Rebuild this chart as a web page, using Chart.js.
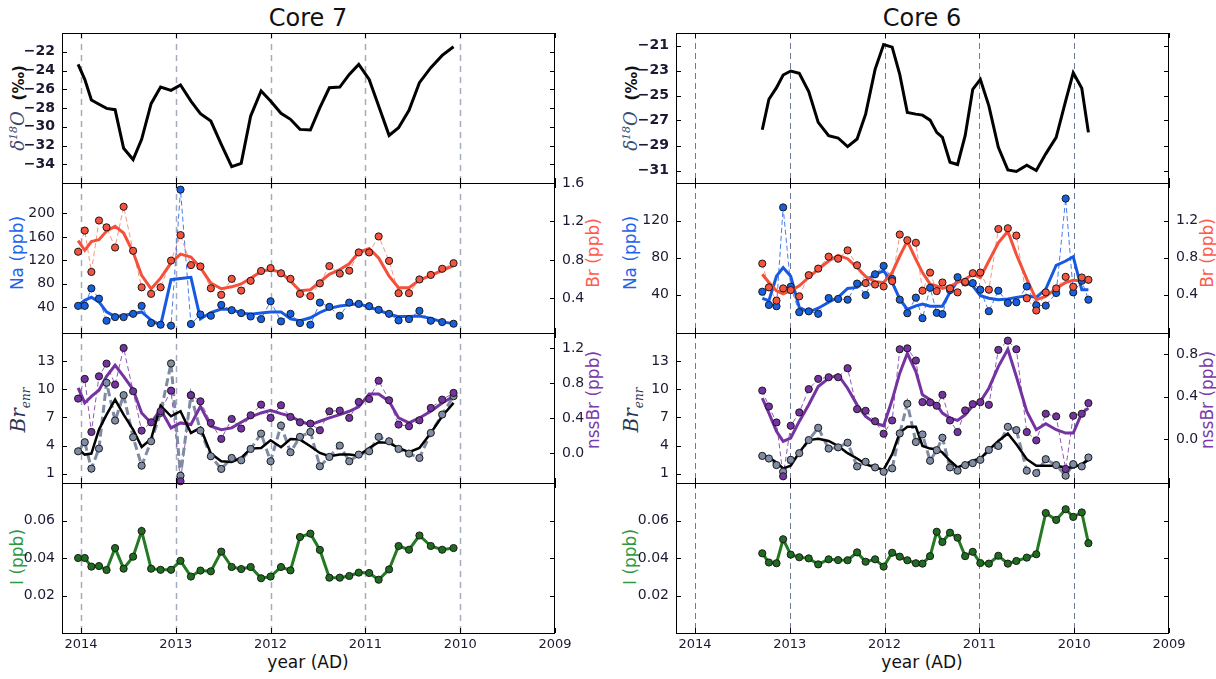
<!DOCTYPE html>
<html>
<head>
<meta charset="utf-8">
<title>Core 7 / Core 6</title>
<script src="https://cdn.jsdelivr.net/npm/chart.js"></script>
<style>
  body { margin: 0; background: #fff; width: 1216px; height: 679px; overflow: hidden; position: relative;
         font-family: "DejaVu Sans", sans-serif; color: #111; }
  canvas { position: absolute; }
  .lbl { position: absolute; white-space: nowrap; transform: translate(-50%, -50%); }
  .rot { transform: translate(-50%, -50%) rotate(-90deg); font-size: 17px; }
  .title { font-size: 24px; }
  .xlab { font-size: 17px; }
  .math { font-family: "DejaVu Serif", serif; font-style: italic; }
</style>
</head>
<body>
  <div class="lbl title" style="left:308px; top:18px;">Core 7</div>
  <div class="lbl title" style="left:922px; top:18px;">Core 6</div>
  <div class="lbl xlab" style="left:308px; top:662px;">year (AD)</div>
  <div class="lbl xlab" style="left:922px; top:662px;">year (AD)</div>

  <div class="lbl rot" style="left:17px; top:108px;"><span class="math" style="color:#3a4870; font-size:18px;">δ<sup style="font-size:11px;">18</sup>O</span>&nbsp;&nbsp;<b style="font-size:15px;">(‰)</b></div>
  <div class="lbl rot" style="left:17px; top:253px; color:#1d63f0;">Na (ppb)</div>
  <div class="lbl rot" style="left:19px; top:410px; color:#2c3553;"><span class="math" style="font-size:20px;">Br<sub style="font-size:12px;">enr</sub></span></div>
  <div class="lbl rot" style="left:17px; top:557px; color:#2e9a40;">I (ppb)</div>
  <div class="lbl rot" style="left:593px; top:253px; color:#ff5a4a;">Br (ppb)</div>
  <div class="lbl rot" style="left:593px; top:400px; color:#7a3aa8;">nssBr (ppb)</div>

  <div class="lbl rot" style="left:630px; top:108px;"><span class="math" style="color:#3a4870; font-size:18px;">δ<sup style="font-size:11px;">18</sup>O</span>&nbsp;&nbsp;<b style="font-size:15px;">(‰)</b></div>
  <div class="lbl rot" style="left:630px; top:253px; color:#1d63f0;">Na (ppb)</div>
  <div class="lbl rot" style="left:632px; top:410px; color:#2c3553;"><span class="math" style="font-size:20px;">Br<sub style="font-size:12px;">enr</sub></span></div>
  <div class="lbl rot" style="left:630px; top:557px; color:#2e9a40;">I (ppb)</div>
  <div class="lbl rot" style="left:1207px; top:253px; color:#ff5a4a;">Br (ppb)</div>
  <div class="lbl rot" style="left:1207px; top:400px; color:#7a3aa8;">nssBr (ppb)</div>

<script>
// ---------- data ----------
const xYears = [2014, 2013, 2012, 2011, 2010, 2009];

// Core 7 samples
const c7_years = [2014.03, 2013.96, 2013.89, 2013.81, 2013.73, 2013.64, 2013.55, 2013.45, 2013.36, 2013.26,
  2013.16, 2013.05, 2012.95, 2012.84, 2012.74, 2012.63, 2012.52, 2012.41, 2012.31, 2012.21,
  2012.10, 2012.00, 2011.89, 2011.79, 2011.69, 2011.58, 2011.48, 2011.38, 2011.27, 2011.17,
  2011.07, 2010.96, 2010.86, 2010.75, 2010.65, 2010.54, 2010.43, 2010.31, 2010.19, 2010.07];
const c7_d18o = [-23.35, -24.95, -27.15, -27.6, -28.04, -28.18, -32.3, -33.5, -31.34, -27.54,
  -25.77, -26.12, -25.55, -27.26, -28.6, -29.39, -31.88, -34.26, -33.9, -28.86,
  -26.19, -27.26, -28.57, -29.21, -30.28, -30.35, -27.97, -25.84, -25.77, -24.42,
  -23.35, -24.95, -27.79, -30.92, -30.1, -28.25, -25.3, -23.7, -22.39, -21.47];
const c7_na = [42.3, 42.3, 72.1, 54.6, 16.9, 23.1, 23.1, 28.7, 42.3, 13.0,
  10.1, 8.5, 240.6, 11.3, 27.6, 25.4, 43.9, 34.9, 29.9, 24.2,
  19.7, 50.1, 15.8, 28.7, 13.0, 10.1, 47.9, 40.6, 25.4, 47.9,
  45.6, 41.7, 35.5, 28.7, 17.5, 19.7, 33.8, 16.9, 14.6, 11.8];
const c7_na_smooth = [43, 52, 57, 49, 32, 24, 26, 29, 32, 18,
  9, 87, 89, 91, 20, 31, 37, 36, 30, 28,
  30, 32, 32, 20, 17, 22, 31, 38, 42, 44,
  46, 40, 35, 28, 24, 24, 25, 21, 15, 12];
const c7_br = [0.885, 1.105, 0.675, 1.21, 1.139, 0.929, 1.353, 0.895, 0.515, 0.447,
  0.515, 0.793, 1.058, 0.746, 0.732, 0.505, 0.437, 0.603, 0.481, 0.583,
  0.685, 0.715, 0.661, 0.603, 0.447, 0.424, 0.556, 0.736, 0.658, 0.688,
  0.878, 0.878, 1.044, 0.79, 0.454, 0.454, 0.597, 0.644, 0.708, 0.766];
const c7_br_smooth = [1.0, 0.90, 0.99, 1.01, 1.10, 1.15, 1.08, 0.88, 0.64, 0.50,
  0.61, 0.77, 0.86, 0.83, 0.72, 0.56, 0.50, 0.52, 0.55, 0.61,
  0.68, 0.70, 0.67, 0.58, 0.48, 0.49, 0.57, 0.65, 0.70, 0.76,
  0.88, 0.92, 0.82, 0.63, 0.51, 0.51, 0.59, 0.64, 0.69, 0.74];
const c7_enr = [3.38, 4.35, 1.53, 3.67, 10.69, 6.66, 9.37, 4.88, 1.85, 4.45,
  7.48, 12.75, 0.78, 9.37, 5.59, 2.85, 1.5, 2.67, 2.42, 3.63,
  5.27, 2.32, 6.13, 3.28, 4.92, 5.45, 1.78, 2.78, 3.99, 2.32,
  3.03, 3.38, 4.92, 4.45, 3.63, 3.14, 2.67, 5.34, 7.3, 9.26];
const c7_enr_smooth = [3.63, 3.03, 3.14, 5.7, 7.3, 8.9, 7.3, 5.7, 3.85, 4.7,
  8.26, 7.12, 7.66, 5.34, 5.88, 3.14, 2.32, 2.25, 2.67, 3.67,
  3.74, 4.56, 3.81, 4.70, 4.63, 3.92, 3.21, 2.85, 3.03, 3.03,
  2.92, 3.74, 4.35, 4.28, 3.74, 3.28, 3.74, 5.34, 7.12, 8.55];
const c7_nssbr = [0.625, 0.85, 0.244, 0.88, 1.025, 0.785, 1.204, 0.709, 0.259, 0.354,
  0.48, 0.716, -0.32, 0.663, 0.594, 0.347, 0.164, 0.392, 0.282, 0.434,
  0.556, 0.404, 0.549, 0.415, 0.354, 0.339, 0.263, 0.48, 0.488, 0.404,
  0.587, 0.621, 0.83, 0.606, 0.328, 0.309, 0.377, 0.518, 0.613, 0.69];
const c7_nssbr_smooth = [0.747, 0.575, 0.651, 0.72, 0.88, 1.006, 0.88, 0.728, 0.461, 0.347,
  0.499, 0.29, 0.347, 0.328, 0.537, 0.309, 0.27, 0.29, 0.354, 0.415,
  0.461, 0.491, 0.453, 0.423, 0.366, 0.328, 0.366, 0.404, 0.442, 0.48,
  0.53, 0.678, 0.678, 0.594, 0.404, 0.347, 0.404, 0.48, 0.575, 0.651];
const c7_iodine = [0.040, 0.040, 0.0354, 0.0357, 0.0336, 0.0453, 0.0343, 0.0407, 0.0544, 0.0343,
  0.0337, 0.0337, 0.0385, 0.0301, 0.0333, 0.0329, 0.0434, 0.0352, 0.0341, 0.0352,
  0.0292, 0.0301, 0.0352, 0.0334, 0.0512, 0.0530, 0.0443, 0.0295, 0.0295, 0.0304,
  0.0322, 0.0320, 0.0284, 0.0339, 0.0464, 0.0444, 0.0520, 0.0464, 0.0444, 0.0453];

// Core 6 samples
const c6_years = [2013.29, 2013.22, 2013.14, 2013.07, 2012.99, 2012.90, 2012.80, 2012.70, 2012.59, 2012.49,
  2012.39, 2012.29, 2012.20, 2012.10, 2012.01, 2011.92, 2011.84, 2011.76, 2011.67, 2011.60,
  2011.52, 2011.45, 2011.39, 2011.31, 2011.23, 2011.15, 2011.07, 2010.99, 2010.90, 2010.80,
  2010.70, 2010.61, 2010.50, 2010.40, 2010.30, 2010.19, 2010.09, 2010.01, 2009.92, 2009.85];
const c6_d18o = [-27.74, -25.30, -24.37, -23.36, -23.04, -23.23, -24.69, -27.15, -28.21, -28.40,
  -29.09, -28.48, -26.49, -22.91, -20.92, -21.13, -23.31, -26.36, -26.49, -26.57,
  -26.97, -27.95, -28.35, -30.34, -30.52, -28.21, -24.5, -23.71, -25.83, -29.14,
  -30.95, -31.08, -30.58, -31.0, -29.67, -28.35, -25.43, -23.18, -24.42, -27.95];
const c6_na = [43.2, 28.9, 27.5, 134.3, 48.6, 21.1, 22, 19.3, 36.4, 35.4,
  34.6, 52, 39.6, 62.1, 71.1, 57, 34.6, 20.0, 36.8, 14.6,
  47.5, 20.4, 19.0, 45, 58.9, 53.2, 52.5, 45.4, 22.1, 44.3,
  31.1, 31.8, 48.9, 28.6, 28.2, 41.8, 143.9, 42.5, 55, 34.6];
const c6_na_smooth = [36.1, 33.6, 60, 69.3, 60, 26.4, 21.1, 25.4, 31.8, 37.1,
  46.8, 47.9, 55.0, 62.1, 65.7, 53.2, 35.4, 24, 28, 30.0,
  27.5, 27.5, 27.5, 42.5, 55.0, 53.2, 49.6, 38.9, 36.1, 34.6,
  35.4, 37.1, 38.9, 37.1, 46.1, 71.8, 76.4, 81.1, 45.4, 45.4];
const c6_br = [0.736, 0.479, 0.336, 0.468, 0.45, 0.382, 0.611, 0.682, 0.811, 0.789,
  0.879, 0.718, 0.525, 0.51, 0.489, 0.546, 1.05, 0.989, 0.961, 0.443,
  0.639, 0.439, 0.532, 0.468, 0.425, 0.539, 0.632, 0.639, 0.454, 1.11,
  1.118, 1.039, 0.361, 0.229, 0.425, 0.468, 0.593, 0.486, 0.586, 0.561];
const c6_br_smooth = [0.621, 0.532, 0.443, 0.41, 0.443, 0.496, 0.586, 0.675, 0.764, 0.825,
  0.789, 0.693, 0.596, 0.539, 0.532, 0.639, 0.818, 0.979, 0.782, 0.639,
  0.514, 0.496, 0.468, 0.489, 0.532, 0.568, 0.621, 0.586, 0.764, 0.961,
  1.086, 0.836, 0.568, 0.346, 0.382, 0.468, 0.532, 0.557, 0.55, 0.561];
const c6_enr = [2.89, 2.61, 1.91, 1.2, 2.47, 3.18, 4.58, 5.89, 3.67, 3.8,
  4.3, 1.77, 2.26, 1.66, 1.2, 1.56, 5.29, 8.46, 4.37, 5.18,
  2.37, 3.5, 4.83, 1.66, 1.31, 1.91, 2.12, 2.47, 3.53, 3.95,
  5.99, 5.64, 1.31, 1.06, 2.54, 1.91, 0.78, 2.01, 1.77, 2.72];
const c6_enr_smooth = [2.89, 2.72, 2.19, 1.56, 1.84, 3.25, 4.58, 4.73, 4.48, 3.95,
  3.18, 2.61, 2.01, 1.66, 1.42, 3.07, 5.36, 5.99, 5.99, 3.95,
  3.67, 3.6, 3.25, 2.37, 1.66, 2.01, 2.37, 2.61, 3.53, 4.48,
  5.29, 4.13, 2.54, 1.84, 1.84, 1.84, 1.66, 1.66, 2.01, 2.47];
const c6_nssbr = [0.459, 0.309, 0.159, -0.347, 0.128, 0.253, 0.472, 0.569, 0.584, 0.584,
  0.669, 0.284, 0.269, 0.17, 0.053, 0.178, 0.847, 0.856, 0.741, 0.35,
  0.347, 0.316, 0.419, 0.178, 0.069, 0.272, 0.331, 0.35, 0.325, 0.841,
  0.928, 0.847, 0.069, -0.009, 0.241, 0.216, -0.278, 0.222, 0.241, 0.341];
const c6_nssbr_smooth = [0.388, 0.247, 0.075, -0.019, 0.013, 0.169, 0.325, 0.497, 0.575, 0.606,
  0.481, 0.325, 0.216, 0.153, 0.128, 0.372, 0.622, 0.809, 0.638, 0.419,
  0.372, 0.325, 0.247, 0.2, 0.178, 0.231, 0.316, 0.356, 0.481, 0.684,
  0.847, 0.591, 0.263, 0.091, 0.147, 0.091, 0.059, 0.059, 0.247, 0.294];
const c6_iodine = [0.0425, 0.0376, 0.0372, 0.0500, 0.0418, 0.0404, 0.0398, 0.0366, 0.0393, 0.0389,
  0.0388, 0.0430, 0.0380, 0.0393, 0.0354, 0.0428, 0.0407, 0.0388, 0.0372, 0.0370,
  0.0410, 0.0540, 0.0485, 0.0535, 0.0508, 0.0410, 0.0433, 0.0373, 0.0370, 0.0412,
  0.0370, 0.0384, 0.0402, 0.0420, 0.0640, 0.0603, 0.0660, 0.0619, 0.0643, 0.0479];

// tick labels
const d18oTicks7 = [-34, -32, -30, -28, -26, -24, -22];
const d18oTicks6 = [-31, -29, -27, -25, -23, -21];
const naTicks7 = [40, 80, 120, 160, 200];
const brTicks7 = [0.4, 0.8, 1.2, 1.6];
const naTicks6 = [40, 80, 120];
const brTicks6 = [0.4, 0.8, 1.2];
const enrTicks = [1, 4, 7, 10, 13];
const nssTicks7 = [0.0, 0.4, 0.8, 1.2];
const nssTicks6 = [0.0, 0.4, 0.8];
const iTicks = [0.02, 0.04, 0.06];

// ---------- drawing ----------
Chart.defaults.font.family = '"DejaVu Sans", sans-serif';
Chart.defaults.font.size = 14;
Chart.defaults.color = '#1a1a33';

const TOPS = [33, 183, 333, 483];
const PANEL_H = 150, LEFT_AX = 55, RIGHT_AX = 45, PAD = 20;
const COLS = {
  c7: { left: 62, width: 493, dash: { color: '#a3abbd', width: 1.5, pattern: [6, 5] } },
  c6: { left: 676, width: 493, dash: { color: '#6f7a98', width: 1, pattern: [6, 4] } }
};

const pts = (xs, ys) => xs.map((x, i) => ({ x: x, y: ys[i] }));
const minus = v => (v < 0 ? '\u2212' : '') + Math.abs(v);

function lineSet(xs, ys, color, width, axis, order, dash) {
  return { data: pts(xs, ys), showLine: true, borderColor: color, borderWidth: width,
    borderDash: dash || [], pointRadius: 0, yAxisID: axis, order: order, tension: 0 };
}
function dotSet(xs, ys, fill, axis, order) {
  return { data: pts(xs, ys), showLine: false, backgroundColor: fill, pointBackgroundColor: fill,
    pointBorderColor: '#1a1a1a', pointBorderWidth: 1, pointRadius: 3.6, yAxisID: axis, order: order, clip: 5 };
}

const framePlugin = {
  id: 'frame',
  beforeDatasetsDraw(chart, args, opts) {
    const { ctx, chartArea: a } = chart;
    const sx = chart.scales.x;
    ctx.save();
    ctx.strokeStyle = opts.color; ctx.lineWidth = opts.width; ctx.setLineDash(opts.pattern);
    xYears.slice(0, 5).forEach(v => {
      const x = Math.round(sx.getPixelForValue(v)) + 0.5;
      ctx.beginPath(); ctx.moveTo(x, a.top); ctx.lineTo(x, a.bottom); ctx.stroke();
    });
    ctx.restore();
  },
  afterDraw(chart) {
    const { ctx, chartArea: a } = chart;
    const sx = chart.scales.x, yl = chart.scales.y, yr = chart.scales.y2 || yl;
    ctx.save();
    ctx.strokeStyle = '#000'; ctx.lineWidth = 1; ctx.setLineDash([]);
    ctx.strokeRect(a.left + 0.5, a.top + 0.5, a.right - a.left - 1, a.bottom - a.top);
    ctx.beginPath();
    yl.ticks.forEach(t => {
      const y = Math.round(yl.getPixelForValue(t.value)) + 0.5;
      ctx.moveTo(a.left, y); ctx.lineTo(a.left + 5, y);
    });
    yr.ticks.forEach(t => {
      const y = Math.round(yr.getPixelForValue(t.value)) + 0.5;
      ctx.moveTo(a.right - 5, y); ctx.lineTo(a.right, y);
    });
    xYears.forEach(v => {
      const x = Math.round(sx.getPixelForValue(v)) + 0.5;
      ctx.moveTo(x, a.bottom); ctx.lineTo(x, a.bottom - 5);
      ctx.moveTo(x, a.top); ctx.lineTo(x, a.top + 5);
    });
    ctx.stroke();
    ctx.restore();
  }
};

function yAxis(position, min, max, ticks, fmt, bold) {
  return {
    type: 'linear', position: position, min: min, max: max,
    grid: { display: false, drawTicks: false }, border: { display: false },
    afterBuildTicks: s => { s.ticks = ticks.map(v => ({ value: v })); },
    afterFit: s => { s.width = position === 'left' ? LEFT_AX : RIGHT_AX; },
    ticks: { padding: 7, callback: fmt, font: { weight: bold ? 'bold' : 'normal' } }
  };
}

function panel(colKey, row, datasets, y, y2) {
  const col = COLS[colKey];
  const last = row === 3;
  const cv = document.createElement('canvas');
  cv.width = col.width + LEFT_AX + RIGHT_AX;
  cv.height = PAD + PANEL_H + (last ? 30 : PAD);
  cv.style.left = (col.left - LEFT_AX) + 'px';
  cv.style.top = (TOPS[row] - PAD) + 'px';
  document.body.appendChild(cv);

  const scales = {
    x: {
      type: 'linear', reverse: true, min: 2009, max: 2014.2, display: last,
      grid: { display: false, drawTicks: false }, border: { display: false },
      afterBuildTicks: s => { s.ticks = xYears.map(v => ({ value: v })); },
      afterFit: s => { s.height = last ? 30 : 0; },
      ticks: { padding: 4, maxRotation: 0, autoSkip: false, callback: v => String(v), font: { size: 13 } }
    },
    y: y
  };
  if (y2) scales.y2 = y2;

  new Chart(cv, {
    type: 'scatter',
    data: { datasets: datasets },
    options: {
      responsive: false, animation: false, events: [],
      layout: { padding: { top: PAD, bottom: last ? 0 : PAD, left: 0, right: y2 ? 0 : RIGHT_AX } },
      plugins: { legend: { display: false }, tooltip: { enabled: false }, frame: col.dash },
      scales: scales
    },
    plugins: [framePlugin]
  });
}

const BLUE = '#1759e3', RED = '#f4503a', PURPLE = '#7433a0', GREY = '#7e8ba3', GREEN = '#237a23';

function buildCore(key, yrs, d) {
  // row 0: d18O
  panel(key, 0, [lineSet(yrs, d.d18o, '#000', 3, 'y', 0)],
    yAxis('left', d.d18oRange[0], d.d18oRange[1], d.d18oTicks, minus, true));
  // row 1: Na and Br
  panel(key, 1, [
      dotSet(yrs, d.br, '#f5533d', 'y2', 0),
      dotSet(yrs, d.na, '#1560e0', 'y', 1),
      lineSet(yrs, d.brSmooth, RED, 3, 'y2', 2),
      lineSet(yrs, d.naSmooth, BLUE, 3, 'y', 3),
      lineSet(yrs, d.br, 'rgba(246,120,100,0.8)', 1, 'y2', 4, [5, 3]),
      lineSet(yrs, d.na, 'rgba(40,100,235,0.85)', 1, 'y', 5, [5, 3])
    ],
    yAxis('left', d.naRange[0], d.naRange[1], d.naTicks, v => String(v)),
    yAxis('right', d.brRange[0], d.brRange[1], d.brTicks, v => v.toFixed(1)));
  // row 2: Br_enr and nssBr
  panel(key, 2, [
      dotSet(yrs, d.nss, '#7433a0', 'y2', 0),
      dotSet(yrs, d.enr, '#7f8ca4', 'y', 1),
      lineSet(yrs, d.enrSmooth, '#000', 2.5, 'y', 2),
      lineSet(yrs, d.nssSmooth, PURPLE, 3, 'y2', 3),
      lineSet(yrs, d.enr, GREY, 3, 'y', 4, [8, 4]),
      lineSet(yrs, d.nss, 'rgba(125,60,170,0.85)', 1, 'y2', 5, [5, 3])
    ],
    yAxis('left', 0, 16, enrTicks, v => String(v)),
    yAxis('right', d.nssRange[0], d.nssRange[1], d.nssTicks, v => v.toFixed(1)));
  // row 3: iodine
  panel(key, 3, [
      dotSet(yrs, d.iodine, '#1f6b1f', 'y', 0),
      lineSet(yrs, d.iodine, GREEN, 3, 'y', 1)
    ],
    yAxis('left', 0, 0.08, iTicks, v => v.toFixed(2)));
}

buildCore('c7', c7_years, {
  d18o: c7_d18o, d18oRange: [-36, -20], d18oTicks: d18oTicks7,
  na: c7_na, naSmooth: c7_na_smooth, naRange: [-4, 252], naTicks: naTicks7,
  br: c7_br, brSmooth: c7_br_smooth, brRange: [0.04, 1.6], brTicks: brTicks7,
  enr: c7_enr, enrSmooth: c7_enr_smooth,
  nss: c7_nssbr, nssSmooth: c7_nssbr_smooth, nssRange: [-0.34, 1.375], nssTicks: nssTicks7,
  iodine: c7_iodine
});
buildCore('c6', c6_years, {
  d18o: c6_d18o, d18oRange: [-32, -20], d18oTicks: d18oTicks6,
  na: c6_na, naSmooth: c6_na_smooth, naRange: [-1.4, 160.7], naTicks: naTicks6,
  br: c6_br, brSmooth: c6_br_smooth, brRange: [-0.014, 1.607], brTicks: brTicks6,
  enr: c6_enr, enrSmooth: c6_enr_smooth,
  nss: c6_nssbr, nssSmooth: c6_nssbr_smooth, nssRange: [-0.41, 1.0], nssTicks: nssTicks6,
  iodine: c6_iodine
});
</script>
</body>
</html>
